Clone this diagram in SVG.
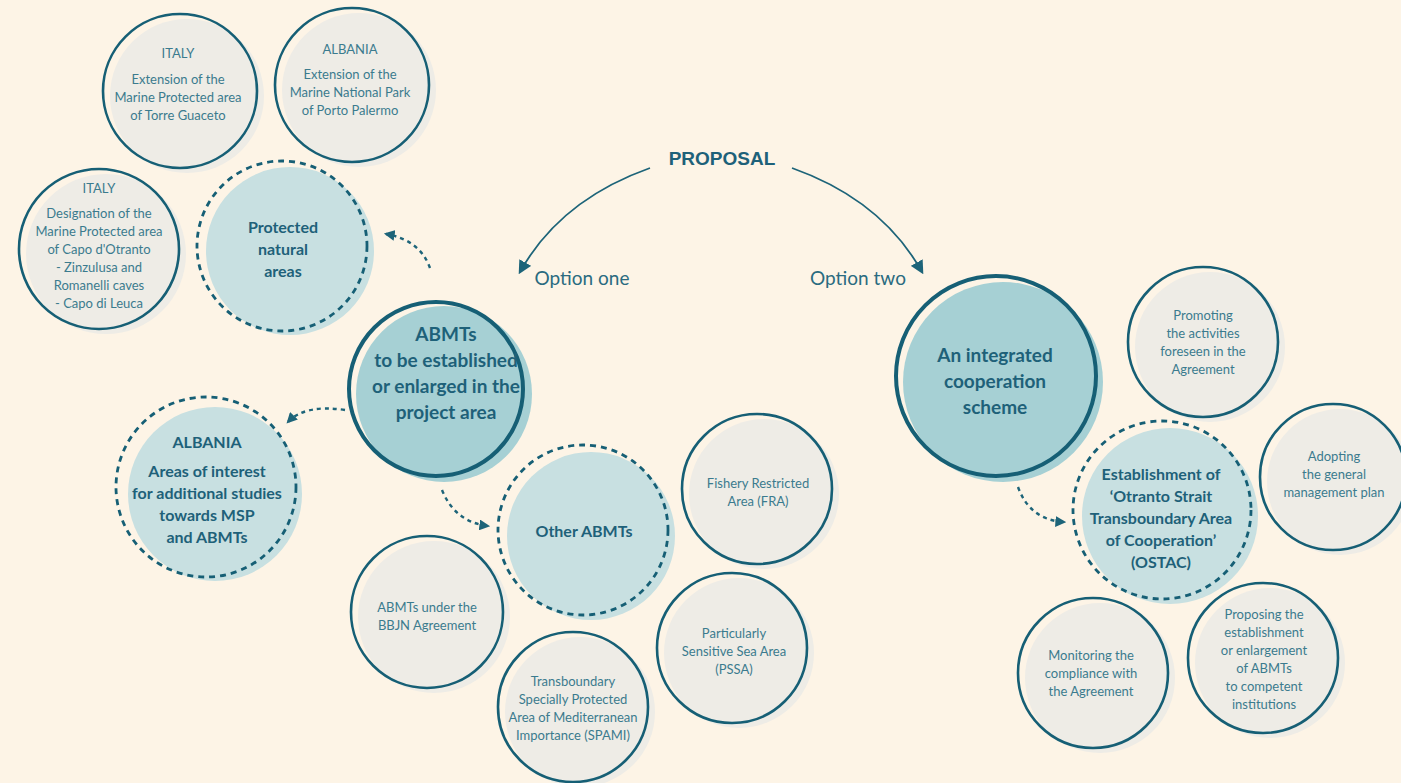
<svg xmlns="http://www.w3.org/2000/svg" width="1401" height="783" viewBox="0 0 1401 783">
<style>
.fg{fill:#eeece6}
.fm{fill:#a6d0d4}
.fl{fill:#c8e0e1}
.ol{fill:none;stroke:#165f75;stroke-width:2.6}
.olm{fill:none;stroke:#165f75;stroke-width:4}
.ds{fill:none;stroke:#165f75;stroke-width:2.8;stroke-dasharray:6 5}
.con{fill:none;stroke:#1d6479;stroke-width:1.8}
.cond{fill:none;stroke:#1d6479;stroke-width:2.4;stroke-dasharray:4 4}
.t{font-family:Lato,"Open Sans",sans-serif;font-size:13px;fill:#3b7b8e;text-anchor:middle}
.b{font-family:Lato,"Open Sans",sans-serif;font-weight:bold;fill:#1e6179;text-anchor:middle}
.b16{font-size:16px}
.b19{font-size:19px}
.opt{font-family:Lato,"Open Sans",sans-serif;font-size:19px;fill:#2a6b80;text-anchor:middle}
.prop{font-family:"Liberation Sans",Arial,sans-serif;font-weight:bold;font-size:19px;fill:#1e6179;text-anchor:middle}
</style>
<defs>
<marker id="ah" viewBox="0 0 10 10" refX="8" refY="5" markerWidth="7.5" markerHeight="7.5" orient="auto" markerUnits="strokeWidth">
<path d="M0,0 L10,5 L0,10 z" fill="#1d6479"/>
</marker>
<marker id="ahd" viewBox="0 0 10 10" refX="8" refY="5" markerWidth="4.5" markerHeight="4.5" orient="auto" markerUnits="strokeWidth">
<path d="M0,0 L10,5 L0,10 z" fill="#1d6479"/>
</marker>
</defs>
<rect x="0" y="0" width="1401" height="783" fill="#fdf4e6"/>

<g id="connectors">
<path class="con" d="M650,168 Q560,200 520,272" marker-end="url(#ah)"/>
<path class="con" d="M792,168 Q882,200 922,272" marker-end="url(#ah)"/>
<path class="cond" d="M430,268 Q420,240 386,234" marker-end="url(#ahd)"/>
<path class="cond" d="M345,410 Q305,404 288,422" marker-end="url(#ahd)"/>
<path class="cond" d="M442,490 Q455,522 488,526" marker-end="url(#ahd)"/>
<path class="cond" d="M1018,487 Q1030,520 1064,522" marker-end="url(#ahd)"/>
</g>

<g id="proposal">
<text class="prop" x="722" y="165">PROPOSAL</text>
</g>
<g id="option-one"><text class="opt" x="582" y="285">Option one</text></g>
<g id="option-two"><text class="opt" x="858" y="285">Option two</text></g>

<g id="italy-torre-guaceto">
<circle class="fg" cx="187" cy="96" r="77"/>
<circle class="ol" cx="180" cy="91" r="77"/>
<text class="t" x="178" y="58">ITALY</text>
<text class="t" x="178" y="84">Extension of the</text>
<text class="t" x="178" y="102">Marine Protected area</text>
<text class="t" x="178" y="120">of Torre Guaceto</text>
</g>

<g id="albania-porto-palermo">
<circle class="fg" cx="359" cy="90" r="77"/>
<circle class="ol" cx="352" cy="85" r="77"/>
<text class="t" x="350" y="54">ALBANIA</text>
<text class="t" x="350" y="79">Extension of the</text>
<text class="t" x="350" y="97">Marine National Park</text>
<text class="t" x="350" y="115">of Porto Palermo</text>
</g>

<g id="italy-capo-otranto">
<circle class="fg" cx="106" cy="254" r="80"/>
<circle class="ol" cx="99" cy="249" r="80"/>
<text class="t" x="99" y="193">ITALY</text>
<text class="t" x="99" y="218">Designation of the</text>
<text class="t" x="99" y="236">Marine Protected area</text>
<text class="t" x="99" y="254">of Capo d'Otranto</text>
<text class="t" x="99" y="272">- Zinzulusa and</text>
<text class="t" x="99" y="290">Romanelli caves</text>
<text class="t" x="99" y="308">- Capo di Leuca</text>
</g>

<g id="protected-natural-areas">
<circle class="fl" cx="290" cy="251" r="84"/>
<circle class="ds" cx="282" cy="246" r="85"/>
<text class="b b16" x="283" y="233">Protected</text>
<text class="b b16" x="283" y="255">natural</text>
<text class="b b16" x="283" y="277">areas</text>
</g>

<g id="abmts-main">
<circle class="fm" cx="444" cy="394" r="88"/>
<circle class="olm" cx="436" cy="389" r="87"/>
<text class="b b19" x="446" y="341">ABMTs</text>
<text class="b b19" x="446" y="367">to be established</text>
<text class="b b19" x="446" y="393">or enlarged in the</text>
<text class="b b19" x="446" y="419">project area</text>
</g>

<g id="albania-areas-of-interest">
<circle class="fl" cx="215" cy="494" r="87"/>
<circle class="ds" cx="206" cy="487" r="90"/>
<text class="b b16" x="207" y="448">ALBANIA</text>
<text class="b b16" x="207" y="477">Areas of interest</text>
<text class="b b16" x="207" y="499">for additional studies</text>
<text class="b b16" x="207" y="521">towards MSP</text>
<text class="b b16" x="207" y="543">and ABMTs</text>
</g>

<g id="other-abmts">
<circle class="fl" cx="591" cy="536" r="84"/>
<circle class="ds" cx="583" cy="530" r="85"/>
<text class="b b16" x="584" y="537">Other ABMTs</text>
</g>

<g id="fra">
<circle class="fg" cx="764" cy="494" r="75"/>
<circle class="ol" cx="757" cy="489" r="75"/>
<text class="t" x="758" y="488">Fishery Restricted</text>
<text class="t" x="758" y="506">Area (FRA)</text>
</g>

<g id="bbjn">
<circle class="fg" cx="434" cy="617" r="76"/>
<circle class="ol" cx="427" cy="612" r="76"/>
<text class="t" x="427" y="612">ABMTs under the</text>
<text class="t" x="427" y="630">BBJN Agreement</text>
</g>

<g id="pssa">
<circle class="fg" cx="739" cy="653" r="75"/>
<circle class="ol" cx="732" cy="648" r="75"/>
<text class="t" x="734" y="638">Particularly</text>
<text class="t" x="734" y="656">Sensitive Sea Area</text>
<text class="t" x="734" y="674">(PSSA)</text>
</g>

<g id="spami">
<circle class="fg" cx="580" cy="712" r="75"/>
<circle class="ol" cx="573" cy="707" r="75"/>
<text class="t" x="573" y="686">Transboundary</text>
<text class="t" x="573" y="704">Specially Protected</text>
<text class="t" x="573" y="722">Area of Mediterranean</text>
<text class="t" x="573" y="740">Importance (SPAMI)</text>
</g>

<g id="integrated-cooperation">
<circle class="fm" cx="1003" cy="382" r="100"/>
<circle class="olm" cx="996" cy="376" r="100"/>
<text class="b b19" x="995" y="362">An integrated</text>
<text class="b b19" x="995" y="388">cooperation</text>
<text class="b b19" x="995" y="414">scheme</text>
</g>

<g id="promoting">
<circle class="fg" cx="1210" cy="347" r="75"/>
<circle class="ol" cx="1203" cy="342" r="75"/>
<text class="t" x="1203" y="320">Promoting</text>
<text class="t" x="1203" y="338">the activities</text>
<text class="t" x="1203" y="356">foreseen in the</text>
<text class="t" x="1203" y="374">Agreement</text>
</g>

<g id="adopting">
<circle class="fg" cx="1340" cy="482" r="73"/>
<circle class="ol" cx="1333" cy="477" r="73"/>
<text class="t" x="1334" y="461">Adopting</text>
<text class="t" x="1334" y="479">the general</text>
<text class="t" x="1334" y="497">management plan</text>
</g>

<g id="ostac">
<circle class="fl" cx="1170" cy="516" r="88"/>
<circle class="ds" cx="1162" cy="510" r="89"/>
<text class="b b16" x="1161" y="480">Establishment of</text>
<text class="b b16" x="1161" y="502">‘Otranto Strait</text>
<text class="b b16" x="1161" y="524">Transboundary Area</text>
<text class="b b16" x="1161" y="546">of Cooperation’</text>
<text class="b b16" x="1161" y="568">(OSTAC)</text>
</g>

<g id="monitoring">
<circle class="fg" cx="1100" cy="678" r="75"/>
<circle class="ol" cx="1093" cy="673" r="75"/>
<text class="t" x="1091" y="660">Monitoring the</text>
<text class="t" x="1091" y="678">compliance with</text>
<text class="t" x="1091" y="696">the Agreement</text>
</g>

<g id="proposing">
<circle class="fg" cx="1270" cy="663" r="75"/>
<circle class="ol" cx="1263" cy="658" r="75"/>
<text class="t" x="1264" y="619">Proposing the</text>
<text class="t" x="1264" y="637">establishment</text>
<text class="t" x="1264" y="655">or enlargement</text>
<text class="t" x="1264" y="673">of ABMTs</text>
<text class="t" x="1264" y="691">to competent</text>
<text class="t" x="1264" y="709">institutions</text>
</g>
</svg>
